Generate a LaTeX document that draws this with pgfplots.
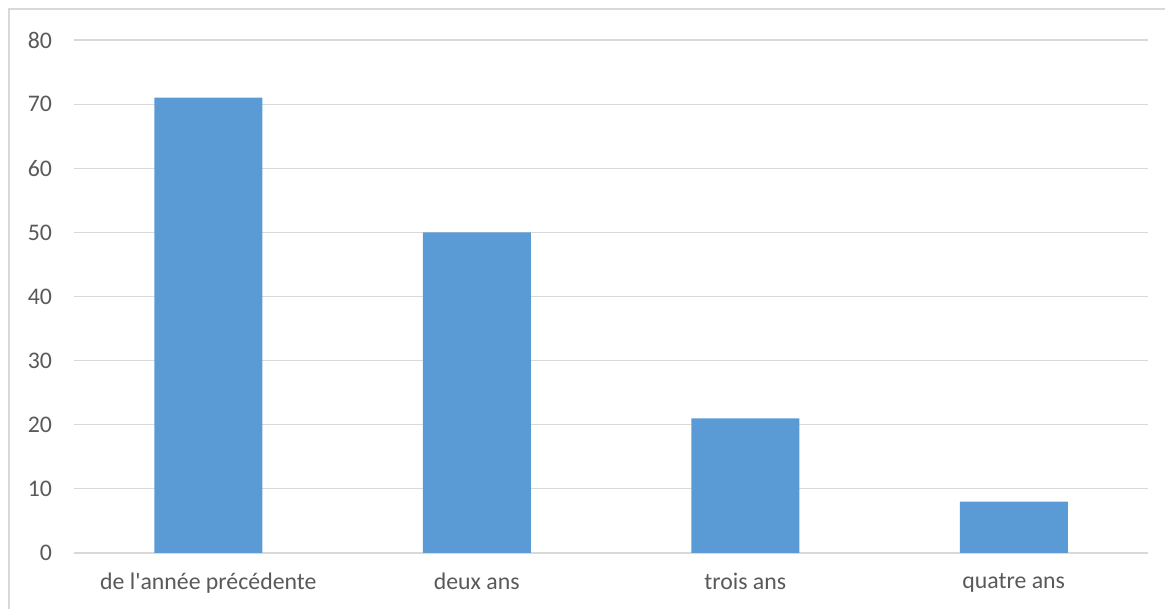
\documentclass[border=0pt]{standalone}
\usepackage{pgfplots}
\pgfplotsset{compat=1.18}
\usepackage{fontspec}
\setmainfont{Carlito}
\definecolor{barblue}{HTML}{5B9BD5}
\definecolor{gridgray}{HTML}{D9D9D9}
\definecolor{txtgray}{HTML}{595959}
\begin{document}
\begin{tikzpicture}
\clip (-37pt,-28pt) rectangle (545.5pt,276.5pt);
\useasboundingbox (-37pt,-28pt) rectangle (545.5pt,276.5pt);
\draw[gridgray, line width=0.6pt] (-32.5pt,-60pt) -- (-32.5pt,272pt) -- (600pt,272pt);
\begin{axis}[
  at={(0pt,0pt)}, anchor=south west,
  scale only axis,
  width=537pt, height=256.5pt,
  xmin=-0.5, xmax=3.5,
  ymin=0, ymax=80,
  ytick={0,10,...,80},
  xtick={0,1,2,3},
  xticklabels={de l\textquotesingle année précédente, deux ans, trois ans, quatre ans},
  axis line style={draw=none},
  major tick length=0pt,
  ymajorgrids,
  grid style={gridgray, line width=0.6pt},
  tick label style={font=\fontsize{11.9}{13}\selectfont, text=txtgray},
  /pgf/number format/assume math mode=true,
  yticklabel style={xshift=-7.5pt},
  xticklabel style={yshift=-6.5pt},
  ybar, bar width=54pt,
  clip=false,
]
\addplot[fill=barblue, draw=none] coordinates {(0,71) (1,50) (2,21) (3,8)};
\end{axis}
\end{tikzpicture}
\end{document}
